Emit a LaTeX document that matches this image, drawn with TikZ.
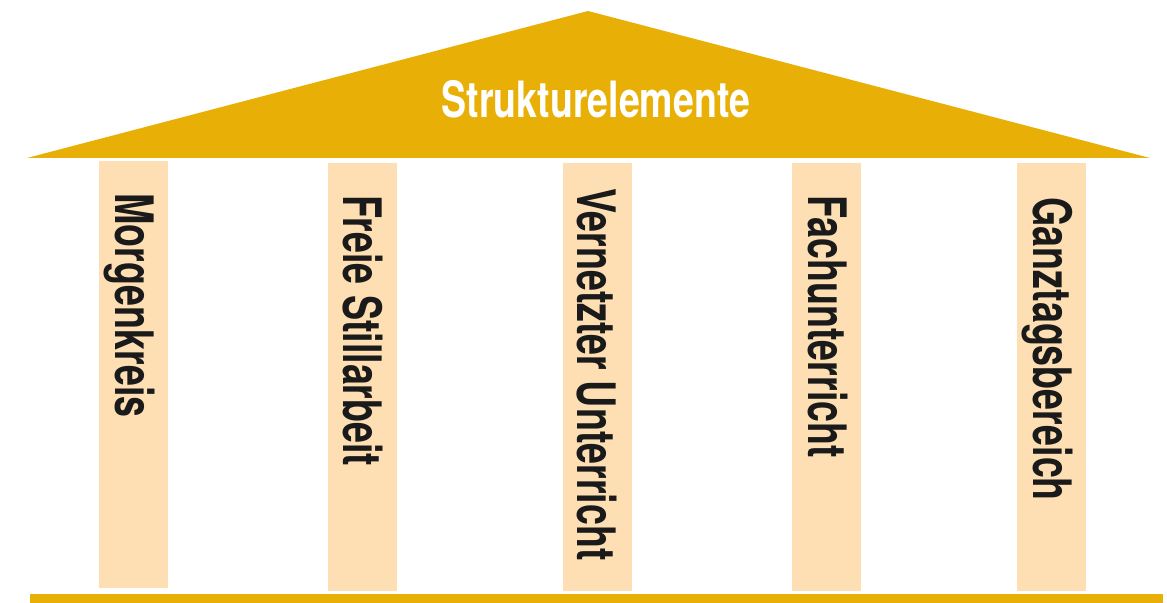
\documentclass[tikz,border=0pt]{standalone}
\usepackage{fontspec}
\newfontfamily\pillarfont[FakeStretch=0.71]{TeX Gyre Heros}
\newfontfamily\roofont[FakeStretch=0.75]{TeX Gyre Heros}
\definecolor{roofgold}{RGB}{232,176,7}
\definecolor{pillarpeach}{RGB}{253,223,179}
\definecolor{inkblack}{RGB}{26,26,26}
\tikzset{
  pillar/.style={fill=pillarpeach},
  pillartext/.style={anchor=base west,rotate=-90,inner sep=0pt,text=inkblack,
    font=\pillarfont\bfseries\fontsize{26.5pt}{30pt}\selectfont},
  rooftext/.style={anchor=base,inner sep=0pt,text=white,
    font=\roofont\bfseries\fontsize{25pt}{28pt}\selectfont}
}
\begin{document}
\begin{tikzpicture}[x=0.5pt,y=-0.5pt]
\useasboundingbox (0,0) rectangle (1167,603);

\fill[roofgold] (27,158) -- (588,11) -- (1150,158) -- cycle;

\node[rooftext] (roof) at (596,118) {Strukturelemente};

\fill[pillar] (99,161) rectangle (168,588);
\node[pillartext] (morgen) at (115,193) {Morgenkreis};

\fill[pillar] (328,163) rectangle (397,591);
\node[pillartext] (frei) at (343,195) {Freie Stillarbeit};

\fill[pillar] (563,163) rectangle (632,591);
\node[pillartext] (vernetzt) at (577,188) {Vernetzter Unterricht};

\fill[pillar] (792,163) rectangle (861,591);
\node[pillartext] (fach) at (808,195) {Fachunterricht};

\fill[pillar] (1017,163) rectangle (1086,591);
\node[pillartext] (ganztag) at (1033,197) {Ganztagsbereich};

\fill[roofgold] (30,594) rectangle (1163,603);

\end{tikzpicture}
\end{document}
